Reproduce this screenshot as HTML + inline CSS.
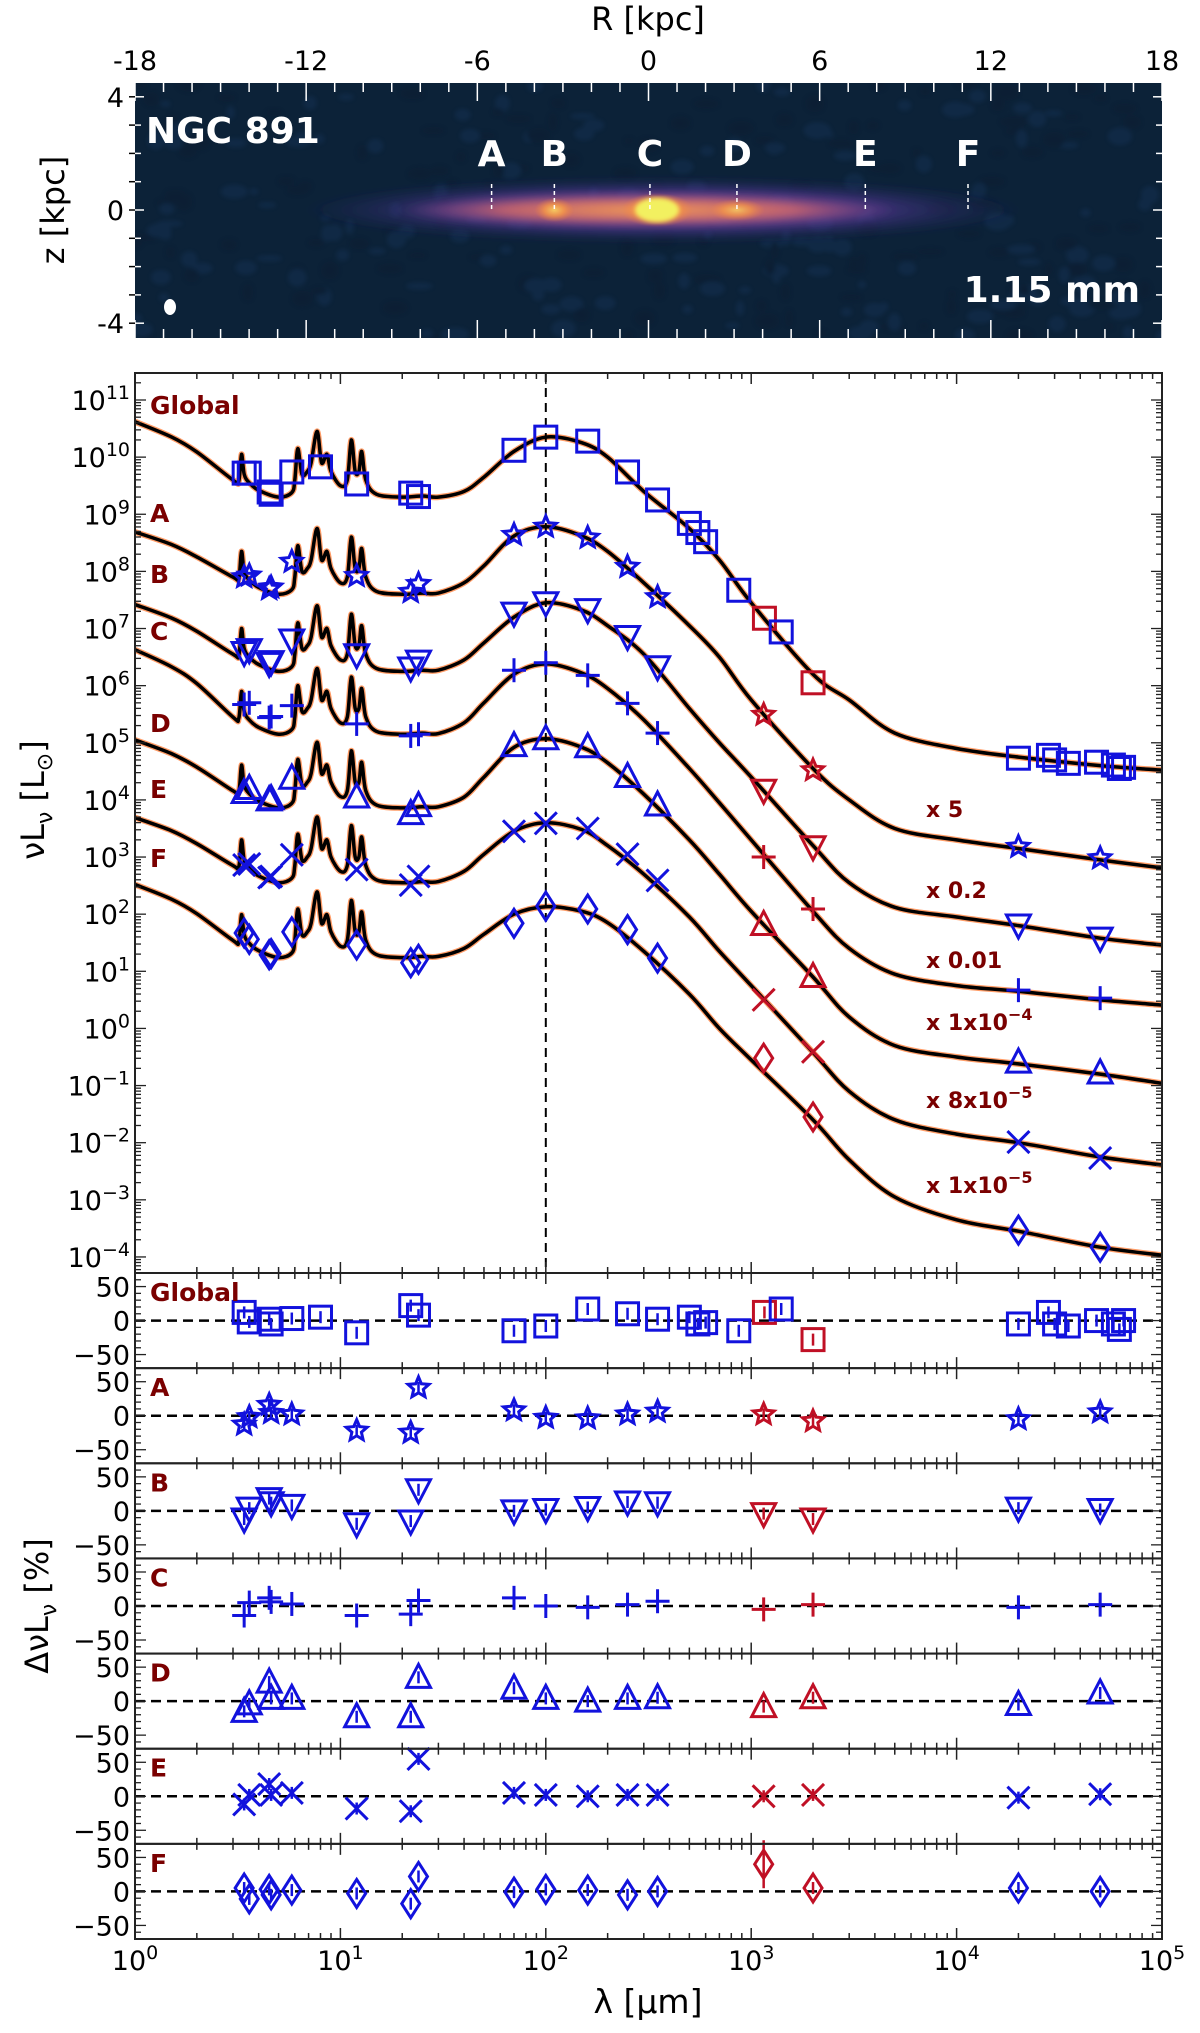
<!DOCTYPE html>
<html><head><meta charset="utf-8">
<style>
html,body{margin:0;padding:0;background:#fff;}
svg{display:block;font-family:"DejaVu Sans","Liberation Sans",sans-serif;}
</style></head>
<body>
<svg id="fig" xmlns="http://www.w3.org/2000/svg" width="1200" height="2033" viewBox="0 0 1200 2033">
<defs>
<radialGradient id="gHalo" cx="0.5" cy="0.5" r="0.5">
<stop offset="0" stop-color="#8a4fb0" stop-opacity="0.9"/>
<stop offset="0.6" stop-color="#5b3a9e" stop-opacity="0.6"/>
<stop offset="1" stop-color="#2a2a70" stop-opacity="0"/>
</radialGradient>
<radialGradient id="gCore" cx="0.5" cy="0.5" r="0.5">
<stop offset="0" stop-color="#f5a050" stop-opacity="1"/>
<stop offset="0.6" stop-color="#d86a6a" stop-opacity="0.8"/>
<stop offset="1" stop-color="#9a4a9a" stop-opacity="0"/>
</radialGradient>
<radialGradient id="gKnot" cx="0.5" cy="0.5" r="0.5">
<stop offset="0" stop-color="#ffe060"/>
<stop offset="0.5" stop-color="#ffa040" stop-opacity="0.8"/>
<stop offset="1" stop-color="#f08040" stop-opacity="0"/>
</radialGradient>
<filter id="blur4"><feGaussianBlur stdDeviation="4"/></filter>
<filter id="blur2"><feGaussianBlur stdDeviation="2"/></filter>
<clipPath id="imgClip"><rect x="135" y="83" width="1027" height="255"/></clipPath>
<clipPath id="mainClip"><rect x="135" y="373" width="1027" height="900"/></clipPath>
</defs>
<g id="top"></g>
<g id="main"></g>
<g id="resid"></g>
</svg>
<script>
// ---------- DATA ----------
const globalLam = [3.4,3.6,4.5,4.6,5.8,8.0,12,22,24,70,100,160,250,350,500,550,600,870,1160,1400,2000,20000,28000,30000,35000,48000,58000,62000,65000];
const globalL = [9.72,9.72,9.39,9.35,9.74,9.83,9.53,9.37,9.31,10.12,10.35,10.28,9.74,9.25,8.84,8.68,8.52,7.67,7.18,6.94,6.05,4.73,4.78,4.7,4.64,4.66,4.61,4.55,4.57];
const globalRes = [12,-2,2,-5,3,5,-18,22,8,-15,-8,17,10,2,5,-5,-3,-15,12,17,-28,-5,12,-5,-8,0,-5,-13,0];
const globalRed = [1160,2000];

const regionLam = [3.4,3.6,4.5,4.6,5.8,12,22,24,70,100,160,250,350,1150,2000,20000,50000];
const regionRed = [1150,2000];
const regionNames = ["A","B","C","D","E","F"];
const regionMarkers = ["star","tridown","plus","triup","cross","diamond"];
const A_L = [7.9,7.93,7.69,7.72,8.17,7.92,7.64,7.78,8.64,8.78,8.59,8.08,7.55,5.49,4.52,3.18,2.98];
const B_L = [6.58,6.63,6.39,6.42,6.8,6.54,6.31,6.43,7.27,7.45,7.33,6.86,6.33,4.17,3.18,1.81,1.58];
const C_L = [5.67,5.7,5.44,5.46,5.65,5.33,5.12,5.15,6.27,6.4,6.18,5.69,5.17,3.0,2.09,0.67,0.53];
const D_L = [4.13,4.2,4.0,4.02,4.38,4.05,3.76,3.9,4.95,5.07,4.93,4.41,3.91,1.82,0.91,-0.59,-0.78];
const E_L = [2.86,2.88,2.64,2.66,3.04,2.78,2.51,2.66,3.45,3.59,3.5,3.05,2.59,0.5,-0.41,-1.99,-2.27];
const F_L = [1.67,1.56,1.29,1.31,1.69,1.46,1.15,1.21,1.84,2.14,2.09,1.73,1.23,-0.52,-1.55,-3.53,-3.83];
const A_res = [-13,-2,16,4,2,-22,-25,41,8,-3,-4,2,6,2,-8,-5,5];
const B_res = [-12,4,18,12,8,-19,-15,31,0,2,5,13,12,-4,-12,4,2];
const C_res = [-14,5,12,6,3,-14,-12,8,12,0,-2,2,7,-5,2,-2,2];
const D_res = [-15,-4,28,4,4,-23,-23,35,19,4,0,4,5,-8,5,-5,12];
const E_res = [-12,2,18,2,5,-18,-22,55,5,2,0,2,2,0,2,-2,3];
const F_res = [5,-11,3,-5,2,-3,-18,22,-1,3,2,-5,0,40,5,5,0];

const nirLam = [1,1.5,2,3,3.2,3.3,3.4,3.6,4,5,5.8,6.0,6.2,6.5,6.9,7.2,7.7,8.1,8.6,9.0,10,10.8,11.3,11.8,12.3,12.7,13.3,15,20,25];
const nirStartFrac = [1,0.8,0.6];
const nirDelta = [null,null,null,0.3,0.28,0.75,0.4,0.25,0.12,0.0,0.08,0.3,0.85,0.4,0.45,0.6,1.15,0.6,0.75,0.45,0.2,0.3,1.0,0.45,0.45,0.8,0.3,0.05,0,0.02];
const curveStart = [10.62,8.69,7.42,6.63,5.05,3.69,2.52];
const curveMin = [9.3,7.6,6.25,5.15,3.86,2.55,1.24];
const firLam = [30,40,50,70,100,150,200,300,500,700,1000,2000,3000,5000,10000,20000,50000,100000];
const G_fir = [9.3,9.4,9.65,10.1,10.35,10.25,10.0,9.4,8.75,8.2,7.45,6.2,5.75,5.17,4.9,4.75,4.6,4.52];
const A_fir = [7.62,7.8,8.1,8.62,8.78,8.62,8.35,7.8,7.05,6.5,5.75,4.55,4.0,3.5,3.3,3.15,2.95,2.81];
const B_fir = [6.27,6.45,6.75,7.2,7.45,7.32,7.05,6.55,5.6,5.0,4.4,3.2,2.55,2.12,1.95,1.8,1.58,1.46];
const C_fir = [5.16,5.35,5.7,6.2,6.38,6.22,5.95,5.4,4.55,3.95,3.3,2.05,1.4,0.95,0.75,0.65,0.5,0.41];
const D_fir = [3.88,4.05,4.4,4.92,5.07,4.92,4.65,4.1,3.3,2.7,2.05,0.9,0.2,-0.3,-0.5,-0.62,-0.8,-0.96];
const E_fir = [2.57,2.75,3.05,3.45,3.6,3.48,3.2,2.7,1.95,1.35,0.75,-0.42,-1.1,-1.6,-1.85,-2.0,-2.25,-2.39];
const F_fir = [1.26,1.4,1.65,2.0,2.13,2.05,1.85,1.35,0.6,0.0,-0.55,-1.6,-2.3,-2.95,-3.35,-3.55,-3.83,-3.97];
const curveLabels = ["Global","A","B","C","D","E","F"];
const scaleLabels = ["x 5","x 0.2","x 0.01","x 1x10","x 8x10","x 1x10"];
const scaleExp = ["","","","−4","−5","−5"];

const knotR = [-5.5,-3.3,0.05,3.1,7.6,11.2];
const rTicks = [-18,-12,-6,0,6,12,18];
const zTicks = [4,0,-4];

// ---------- AXES ----------
const NS="http://www.w3.org/2000/svg";
const XL=135, XR=1162;
const X = l => XL + Math.log10(l)*205.4;
const Ym = v => 400 + (11 - v)*57.13;
const RT = 1273, RH = (1939-1273)/7;
const Yr = (i,v) => RT + i*RH + RH/2 - v*0.68;
const Rx = r => XL + (r+18)*(XR-XL)/36;
const Zy = z => 210 - z*28.3;
const BLUE="#1212dd", RED="#c01025", DRED="#7a0000";

function el(tag, attrs, parent){const e=document.createElementNS(NS,tag);for(const k in attrs)e.setAttribute(k,attrs[k]);(parent||svg).appendChild(e);return e;}
const svg=document.getElementById('fig');
const gTop=document.getElementById('top'), gMain=document.getElementById('main'), gRes=document.getElementById('resid');

// ---------- TOP IMAGE ----------
const bg=el('rect',{x:135,y:83,width:1027,height:255,fill:'#0c2238'},gTop);


const noiseG=el('g',{'clip-path':'url(#imgClip)',opacity:0.25,filter:'url(#blur2)'},gTop);
let seed=7;function rnd(){seed=(seed*16807)%2147483647;return seed/2147483647;}
for(let i=0;i<300;i++){el('ellipse',{cx:135+rnd()*1027,cy:83+rnd()*255,rx:4+rnd()*10,ry:3+rnd()*6,fill:rnd()>0.5?'#1d3f6e':'#09182a'},noiseG);}
const gal=el('g',{'clip-path':'url(#imgClip)'},gTop);


el('ellipse',{cx:Rx(0.5),cy:210,rx:360,ry:32,fill:'url(#gHalo)',filter:'url(#blur4)'},gal);
el('ellipse',{cx:Rx(0),cy:210,rx:250,ry:17,fill:'url(#gCore)',filter:'url(#blur4)'},gal);
el('ellipse',{cx:Rx(-3.3),cy:210,rx:20,ry:12,fill:'url(#gKnot)',opacity:0.8},gal);
el('ellipse',{cx:Rx(3.1),cy:210,rx:28,ry:11,fill:'url(#gKnot)',opacity:0.7},gal);
el('ellipse',{cx:Rx(0.3),cy:210,rx:36,ry:17,fill:'url(#gKnot)'},gal);
el('ellipse',{cx:Rx(0.3),cy:210,rx:22,ry:12,fill:'#f2f060',filter:'url(#blur2)'},gal);
for(let r=-18;r<=18;r++){const major=r%6===0;const L=major?18:9;
 el('line',{x1:Rx(r),x2:Rx(r),y1:83,y2:83+L,stroke:'#fff','stroke-width':1.5},gTop);
 el('line',{x1:Rx(r),x2:Rx(r),y1:338,y2:338-L,stroke:'#fff','stroke-width':1.5},gTop);}
for(let z=-4;z<=4;z++){const major=z%4===0;const L=major?9:6;
 el('line',{x1:135,x2:135+L,y1:Zy(z),y2:Zy(z),stroke:'#fff','stroke-width':1.5},gTop);
 el('line',{x1:1162,x2:1162-L,y1:Zy(z),y2:Zy(z),stroke:'#fff','stroke-width':1.5},gTop);
 el('line',{x1:129,x2:135,y1:Zy(z),y2:Zy(z),stroke:'#000','stroke-width':1.5},gTop);}
rTicks.forEach(r=>{const t=el('text',{x:Rx(r),y:70,'font-size':27,'text-anchor':'middle'},gTop);t.textContent=String(r);
 
 });
zTicks.forEach(z=>{const t=el('text',{x:124,y:Zy(z)+10,'font-size':27,'text-anchor':'end'},gTop);t.textContent=String(z);
 
 });
let t=el('text',{x:648,y:30,'font-size':32,'text-anchor':'middle'},gTop);t.textContent='R [kpc]';


t=el('text',{x:0,y:0,'font-size':32,'text-anchor':'middle',transform:'translate(64,210) rotate(-90)'},gTop);t.textContent='z [kpc]';


t=el('text',{x:146,y:143,'font-size':36,'font-weight':'bold',fill:'#fff'},gTop);t.textContent='NGC 891';


t=el('text',{x:1140,y:302,'font-size':36,'font-weight':'bold',fill:'#fff','text-anchor':'end'},gTop);t.textContent='1.15 mm';


const beam=el('ellipse',{cx:170,cy:307,rx:6,ry:8,fill:'#fff'},gTop);


knotR.forEach((r,i)=>{
 const lt=el('text',{x:Rx(r),y:166,'font-size':36,'font-weight':'bold',fill:'#fff','text-anchor':'middle'},gTop);lt.textContent=regionNames[i];
 
 
 const dl=el('line',{x1:Rx(r),x2:Rx(r),y1:184,y2:210,stroke:'#fff','stroke-width':1.5,'stroke-dasharray':'4,3'},gTop);
 
 
});

// ---------- MARKERS ----------
function marker(kind,x,y,color,parent){
 const g=el('g',{fill:'none',stroke:color,'stroke-width':3,'stroke-linejoin':'miter'},parent);
 const s=11;
 if(kind==='square') el('rect',{x:x-s,y:y-s,width:2*s,height:2*s},g);
 else if(kind==='tridown') el('polygon',{points:`${x-12},${y-10} ${x+12},${y-10} ${x},${y+13}`},g);
 else if(kind==='triup') el('polygon',{points:`${x-12},${y+10} ${x+12},${y+10} ${x},${y-13}`},g);
 else if(kind==='plus'){el('line',{x1:x-12,x2:x+12,y1:y,y2:y},g);el('line',{x1:x,x2:x,y1:y-12,y2:y+12},g);}
 else if(kind==='cross'){el('line',{x1:x-11,x2:x+11,y1:y-11,y2:y+11},g);el('line',{x1:x-11,x2:x+11,y1:y+11,y2:y-11},g);}
 else if(kind==='diamond') el('polygon',{points:`${x},${y-14} ${x+9},${y} ${x},${y+14} ${x-9},${y}`},g);
 else if(kind==='star'){let p=[];for(let k=0;k<10;k++){const a=-Math.PI/2+k*Math.PI/5;const r=k%2?5:11;p.push((x+r*Math.cos(a)).toFixed(1)+','+(y+r*Math.sin(a)).toFixed(1));}el('polygon',{points:p.join(' ')},g);}
 return g;
}

// ---------- MAIN PANEL ----------
function smoothPath(pts){
 let d=`M${pts[0][0].toFixed(1)},${pts[0][1].toFixed(1)}`;
 for(let i=0;i<pts.length-1;i++){
  const p0=pts[Math.max(0,i-1)],p1=pts[i],p2=pts[i+1],p3=pts[Math.min(pts.length-1,i+2)];
  const c1=[p1[0]+(p2[0]-p0[0])/6,p1[1]+(p2[1]-p0[1])/6];
  const c2=[p2[0]-(p3[0]-p1[0])/6,p2[1]-(p3[1]-p1[1])/6];
  d+=` C${c1[0].toFixed(1)},${c1[1].toFixed(1)} ${c2[0].toFixed(1)},${c2[1].toFixed(1)} ${p2[0].toFixed(1)},${p2[1].toFixed(1)}`;
 }
 return d;
}
const firSets=[G_fir,A_fir,B_fir,C_fir,D_fir,E_fir,F_fir];
const curveG=el('g',{'clip-path':'url(#mainClip)'},gMain);
firSets.forEach((fir,ci)=>{
 const pts=[];
 nirLam.forEach((l,k)=>{let v;
  if(k<3) v=curveMin[ci]+(curveStart[ci]-curveMin[ci])*nirStartFrac[k];
  else v=curveMin[ci]+nirDelta[k];
  pts.push([X(l),Ym(v)]);});
 firLam.forEach((l,k)=>pts.push([X(l),Ym(fir[k])]));
 const d=smoothPath(pts);
 const h=el('path',{d:d,fill:'none',stroke:'#ff5a00','stroke-width':6,'stroke-opacity':0.6},curveG);
 
 
 const p=el('path',{d:d,fill:'none',stroke:'#000','stroke-width':3.5},curveG);
 
 
});
const vl=el('line',{x1:X(100),x2:X(100),y1:373,y2:1273,stroke:'#000','stroke-width':2,'stroke-dasharray':'9,6'},gMain);


globalLam.forEach((l,i)=>{const m=marker('square',X(l),Ym(globalL[i]),globalRed.includes(l)?RED:BLUE,gMain);
 
 });
const regL=[A_L,B_L,C_L,D_L,E_L,F_L];
regL.forEach((arr,ri)=>{regionLam.forEach((l,i)=>{const m=marker(regionMarkers[ri],X(l),Ym(arr[i]),regionRed.includes(l)?RED:BLUE,gMain);
 
 });});
const fr=el('rect',{x:XL,y:373,width:XR-XL,height:900,fill:'none',stroke:'#222','stroke-width':2},gMain);


function xTicks(yTop,yBot,parent){
 for(let e=0;e<5;e++)for(let k=1;k<10;k++){const x=X(k*Math.pow(10,e));const L=k===1?11:6;
  el('line',{x1:x,x2:x,y1:yTop,y2:yTop+L,stroke:'#222','stroke-width':1.5},parent);
  el('line',{x1:x,x2:x,y1:yBot,y2:yBot-L,stroke:'#222','stroke-width':1.5},parent);}
}
xTicks(373,1273,gMain);
const yExp=[11,10,9,8,7,6,5,4,3,2,1,0,-1,-2,-3,-4];
for(let e=-5;e<=11;e++)for(let k=1;k<10;k++){const v=e+Math.log10(k);if(v< -4.28||v>11.47)continue;const y=Ym(v);const L=k===1?11:6;
 el('line',{x1:XL,x2:XL+L,y1:y,y2:y,stroke:'#222','stroke-width':1.3},gMain);
 el('line',{x1:XR,x2:XR-L,y1:y,y2:y,stroke:'#222','stroke-width':1.3},gMain);}
yExp.forEach(e=>{const tt=el('text',{x:130,y:Ym(e)+10,'font-size':27,'text-anchor':'end'},gMain);
 
 
 const a=document.createElementNS(NS,'tspan');a.textContent='10';tt.appendChild(a);
 const b=document.createElementNS(NS,'tspan');b.setAttribute('dy','-11');b.setAttribute('font-size','19');b.textContent=String(e).replace('-','−');tt.appendChild(b);});
t=el('text',{x:0,y:0,'font-size':32,'text-anchor':'middle',transform:'translate(44,800) rotate(-90)'},gMain);
t.innerHTML='νL<tspan font-size="22" dy="8">ν</tspan><tspan dy="-8"> [L</tspan><tspan font-size="22" dy="8">⊙</tspan><tspan dy="-8">]</tspan>';


const clY=[406,514,575,632,724,790,859];
curveLabels.forEach((c,i)=>{const tt=el('text',{x:150,y:clY[i]+8,'font-size':25,'font-weight':'bold',fill:DRED},gMain);tt.textContent=c;
 
 });
const slY=[817,898,968,1030,1108,1193];
scaleLabels.forEach((s,i)=>{const tt=el('text',{x:926,y:slY[i],'font-size':22,'font-weight':'bold',fill:DRED},gMain);
 
 
 const a=document.createElementNS(NS,'tspan');a.textContent=s;tt.appendChild(a);
 if(scaleExp[i]){const b=document.createElementNS(NS,'tspan');b.setAttribute('dy','-10');b.setAttribute('font-size','16');b.textContent=scaleExp[i];tt.appendChild(b);}});

// ---------- RESIDUAL PANELS ----------
const resSets=[globalRes,A_res,B_res,C_res,D_res,E_res,F_res];
resSets.forEach((res,pi)=>{
 const top=RT+pi*RH, bot=top+RH;
 const g=el('g',{},gRes);
 
 
 const z=el('line',{x1:XL,x2:XR,y1:Yr(pi,0),y2:Yr(pi,0),stroke:'#000','stroke-width':2.5,'stroke-dasharray':'10,6'},g);
 
 
 const lams=pi===0?globalLam:regionLam, reds=pi===0?globalRed:regionRed, kind=pi===0?'square':regionMarkers[pi-1];
 lams.forEach((l,i)=>{const col=reds.includes(l)?RED:BLUE;const x=X(l),y=Yr(pi,res[i]);
  const m=marker(kind,x,y,col,g);
  
  
  const eb=(pi===6&&l===1150)?24:6;
  el('line',{x1:x,x2:x,y1:y-eb,y2:y+eb,stroke:col,'stroke-width':2.5},g);});
 el('rect',{x:XL,y:top,width:XR-XL,height:RH,fill:'none',stroke:'#222','stroke-width':2},g);
 xTicks(top,bot,g);
 for(let v=-70;v<=70;v+=10){const y=Yr(pi,v);const L=v%50===0?11:6;
  el('line',{x1:XL,x2:XL+L,y1:y,y2:y,stroke:'#222','stroke-width':1.3},g);
  el('line',{x1:XR,x2:XR-L,y1:y,y2:y,stroke:'#222','stroke-width':1.3},g);}
 [50,0,-50].forEach(v=>{const tt=el('text',{x:130,y:Yr(pi,v)+10,'font-size':27,'text-anchor':'end'},g);tt.textContent=String(v).replace('-','−');
  
  });
 const lb=el('text',{x:150,y:top+28,'font-size':25,'font-weight':'bold',fill:DRED},g);lb.textContent=curveLabels[pi];
 
 
});
for(let e=0;e<=5;e++){const tt=el('text',{x:X(Math.pow(10,e)),y:1970,'font-size':27,'text-anchor':'middle'},gRes);
 
 
 const a=document.createElementNS(NS,'tspan');a.textContent='10';tt.appendChild(a);
 const b=document.createElementNS(NS,'tspan');b.setAttribute('dy','-11');b.setAttribute('font-size','19');b.textContent=String(e);tt.appendChild(b);}
t=el('text',{x:648,y:2013,'font-size':33,'text-anchor':'middle'},gRes);t.textContent='λ [μm]';


t=el('text',{x:0,y:0,'font-size':32,'text-anchor':'middle',transform:'translate(48,1606) rotate(-90)'},gRes);
t.innerHTML='ΔνL<tspan font-size="22" dy="8">ν</tspan><tspan dy="-8"> [%]</tspan>';


</script>
</body></html>
